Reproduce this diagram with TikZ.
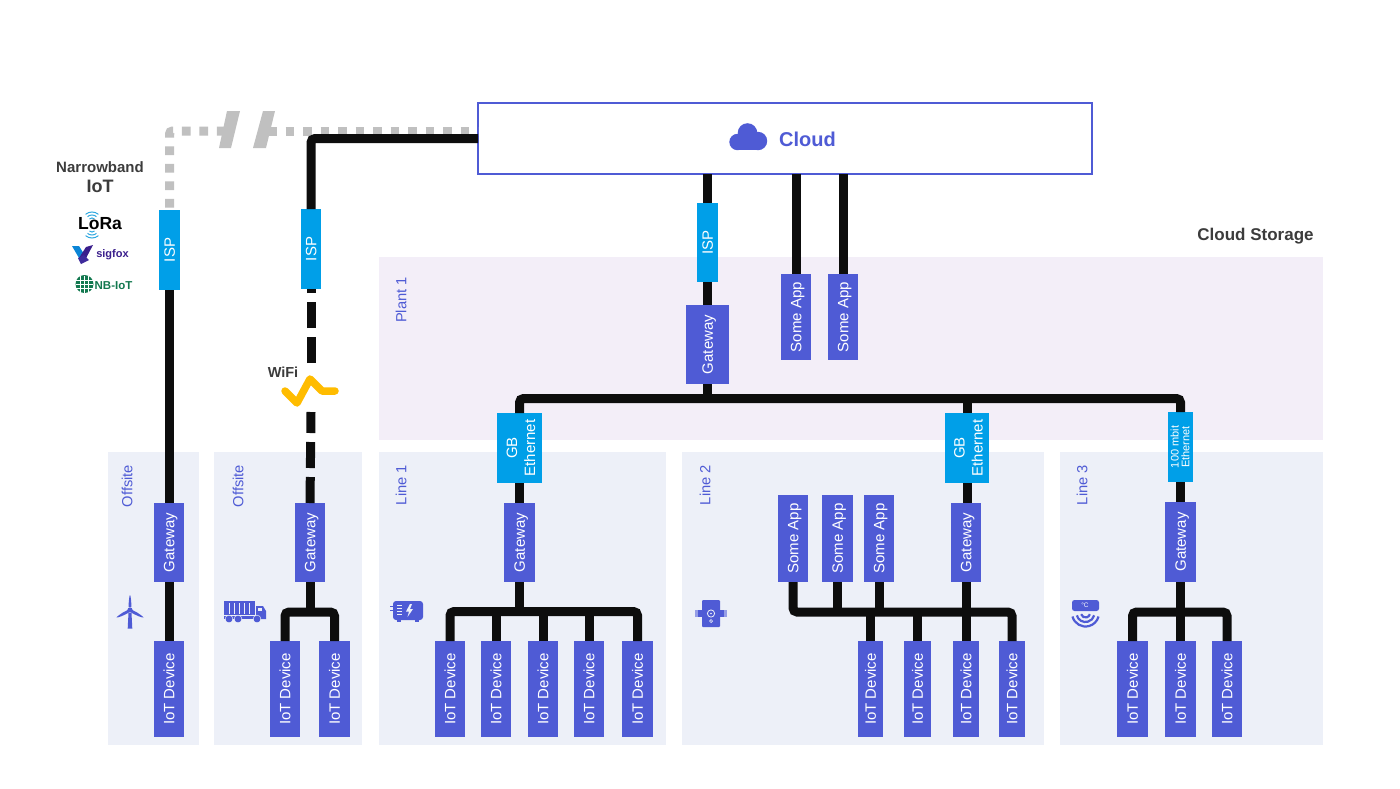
\documentclass[tikz,border=0pt]{standalone}
\usepackage{graphicx}
\usepackage{fontspec}
\setmainfont{Liberation Sans}
\definecolor{blu}{HTML}{4F5BD5}
\definecolor{cyn}{HTML}{009FE8}
\definecolor{pan}{HTML}{EDF0F8}
\definecolor{plant}{HTML}{F3EEF8}
\definecolor{blk}{HTML}{0D0D0D}
\definecolor{gry}{HTML}{C0C0C0}
\definecolor{ink}{HTML}{3C3C3C}
\definecolor{amb}{HTML}{FFBC00}
\definecolor{lorab}{HTML}{2FA8E0}
\definecolor{sigv}{HTML}{3A1E8C}
\definecolor{nbg}{HTML}{12784F}
\newcommand\fs[1]{\fontsize{#1}{#1}\selectfont}
\newcommand\zb[2]{\raisebox{#1}[0pt][0pt]{\makebox[0pt]{#2}}}
\newcommand\one[1]{\rotatebox{90}{\zb{-5.3pt}{#1}}}
\newcommand\two[4]{\rotatebox{90}{\zb{#3}{#1}\zb{#4}{#2}}}
\newcommand\bx[7]{\node[#6,minimum width={(#4-#2)*1pt},minimum height={(#5-#3)*1pt}] (#1) at ({(#2+#4)/2},{(#3+#5)/2}) {#7};}
\tikzset{
 x=1pt,y=-1pt,
 bluebox/.style={fill=blu,text=white,inner sep=0pt,outer sep=0pt,font=\fs{15}},
 cyanbox/.style={fill=cyn,text=white,inner sep=0pt,outer sep=0pt,font=\fs{15}},
 panlabel/.style={text=blu,font=\fs{14.7},rotate=90,inner sep=0pt},
 wire/.style={draw=blk,line width=9pt,rounded corners=4pt},
 graywire/.style={draw=gry,line width=9pt,dash pattern=on 8.75pt off 8.75pt},
 note/.style={text=ink,font=\bfseries\fs{15},inner sep=0pt},
}
\begin{document}
\begin{tikzpicture}
\useasboundingbox (0,0) rectangle (1400,788);
\fill[white] (0,0) rectangle (1400,788);
% panels
\fill[plant] (379,257) rectangle (1323,440);
\fill[pan] (108,452) rectangle (199,745);
\fill[pan] (214,452) rectangle (362,745);
\fill[pan] (379,452) rectangle (666,745);
\fill[pan] (682,452) rectangle (1044,745);
\fill[pan] (1060,452) rectangle (1323,745);
\node[panlabel] (lbPlant) at (401,300) {Plant 1};
\node[panlabel] (lbOff1) at (127,486) {Offsite};
\node[panlabel] (lbOff2) at (238,486) {Offsite};
\node[panlabel] (lbL1) at (401,485) {Line 1};
\node[panlabel] (lbL2) at (705,485) {Line 2};
\node[panlabel] (lbL3) at (1082,485) {Line 3};
\node[text=ink,font=\bfseries\fs{17},inner sep=0pt] (store) at (1255.5,236) {Cloud Storage};
\node[note] (nb) at (100,167) {Narrowband};
\node[note,font=\bfseries\fs{18}] (nbi) at (100,186) {IoT};
\node[note,font=\bfseries\fs{14.5}] (wifi) at (283,372) {WiFi};
% cloud
\node[draw=blu,line width=1.6pt,fill=white,minimum width=614pt,minimum height=71pt,inner sep=0pt,outer sep=0pt] (cloud) at (785,138.5) {};
\node[text=blu,font=\bfseries\fs{20},inner sep=0pt] (cloudt) at (807.5,139) {Cloud};
\fill[blu] (737.5,142) circle[radius=8.2];
\fill[blu] (747.5,133) circle[radius=9.8];
\fill[blu] (758,141) circle[radius=9.2];
\fill[blu] (737.5,140) rectangle (758,150.2);
% boxes
\bx{ispA}{159}{210}{180}{290}{cyanbox}{\one{ISP}}
\bx{ispB}{301}{209}{321}{289}{cyanbox}{\one{ISP}}
\bx{ispC}{697}{203}{718}{282}{cyanbox}{\one{ISP}}
\bx{gwP}{686}{305}{729}{384}{bluebox}{\one{Gateway}}
\bx{appA}{781}{274}{811}{360}{bluebox}{\one{Some App}}
\bx{appB}{828}{274}{858}{360}{bluebox}{\one{Some App}}
\bx{ethA}{497}{413}{542}{483}{cyanbox}{\two{GB}{Ethernet}{2.5pt}{-15.5pt}}
\bx{ethB}{945}{413}{989}{483}{cyanbox}{\two{GB}{Ethernet}{2.5pt}{-15.5pt}}
\bx{ethC}{1168}{412}{1193}{482}{cyanbox}{\fs{11}\two{100 mbit}{Ethernet}{1.8pt}{-8.8pt}}
\bx{gwA}{154}{503}{184}{582}{bluebox}{\one{Gateway}}
\bx{gwB}{295}{503}{325}{582}{bluebox}{\one{Gateway}}
\bx{gwC}{504}{503}{535}{582}{bluebox}{\one{Gateway}}
\bx{gwD}{951}{503}{981}{582}{bluebox}{\one{Gateway}}
\bx{gwE}{1165}{502}{1196}{582}{bluebox}{\one{Gateway}}
\bx{appC}{778}{495}{808}{582}{bluebox}{\one{Some App}}
\bx{appD}{822}{495}{853}{582}{bluebox}{\one{Some App}}
\bx{appE}{864}{495}{894}{582}{bluebox}{\one{Some App}}
\bx{dA}{154}{641}{184}{737}{bluebox}{\one{IoT Device}}
\bx{dB}{270}{641}{300}{737}{bluebox}{\one{IoT Device}}
\bx{dC}{319}{641}{350}{737}{bluebox}{\one{IoT Device}}
\bx{dD}{435}{641}{465}{737}{bluebox}{\one{IoT Device}}
\bx{dE}{481}{641}{511}{737}{bluebox}{\one{IoT Device}}
\bx{dF}{528}{641}{558}{737}{bluebox}{\one{IoT Device}}
\bx{dG}{574}{641}{604}{737}{bluebox}{\one{IoT Device}}
\bx{dH}{622}{641}{653}{737}{bluebox}{\one{IoT Device}}
\bx{dI}{858}{641}{883}{737}{bluebox}{\one{IoT Device}}
\bx{dJ}{904}{641}{931}{737}{bluebox}{\one{IoT Device}}
\bx{dK}{953}{641}{979}{737}{bluebox}{\one{IoT Device}}
\bx{dL}{999}{641}{1025}{737}{bluebox}{\one{IoT Device}}
\bx{dM}{1117}{641}{1148}{737}{bluebox}{\one{IoT Device}}
\bx{dN}{1165}{641}{1196}{737}{bluebox}{\one{IoT Device}}
\bx{dO}{1212}{641}{1242}{737}{bluebox}{\one{IoT Device}}
% helper coordinates
\coordinate (busP) at (707.5,398.5);
\coordinate (busB) at (310,612);
\coordinate (busC) at (519.5,611.5);
\coordinate (busD) at (966,612);
\coordinate (busE) at (1180.5,612);
\coordinate (gapL) at (224.5,131);
\coordinate (gapR) at (268,131);
\coordinate (wifiT) at (311,363);
\coordinate (wifiB) at (311,412);
% gray link
\draw[graywire,dash phase=15pt,rounded corners=3pt] (ispA.north) |- (gapL);
\draw[graywire] (gapR) -- (gapR -| cloud.west);
\fill[gry] (227,111) -- (240,111) -- (231,148) -- (219,148) -- cycle;
\fill[gry] (263,111) -- (275,111) -- (266,148) -- (253,148) -- cycle;
% black links
\draw[wire] (ispB.north) |- (cloud.west);
\draw[wire] (ispA.south) -- (ispA.south |- gwA.north);
\draw[wire] (gwA.south) -- (dA.north);
\draw[wire,dash pattern=on 26pt off 9pt] (wifiT) -- (ispB.south);
\draw[wire,dash pattern=on 26pt off 9pt] (gwB.north) -- (wifiB);
\draw[wire] (cloud.south -| ispC.north) -- (ispC.north);
\draw[wire] (ispC.south) -- (ispC.south |- gwP.north);
\draw[wire] (cloud.south -| appA.north) -- (appA.north);
\draw[wire] (cloud.south -| appB.north) -- (appB.north);
\draw[wire] (gwP.south) -- (busP);
\draw[wire] (ethA.north) |- (busP) -| (ethC.north);
\draw[wire] (ethB.north) -- (ethB.north |- busP);
\draw[wire] (ethA.south) -- (ethA.south |- gwC.north);
\draw[wire] (ethB.south) -- (ethB.south |- gwD.north);
\draw[wire] (ethC.south) -- (ethC.south |- gwE.north);
% trees
\draw[wire] (gwB.south) -- (busB);
\draw[wire] (dB.north) |- (busB) -| (dC.north);
\draw[wire] (gwC.south) -- (busC);
\draw[wire] (dD.north) |- (busC) -| (dH.north);
\foreach \n in {dE,dF,dG} \draw[wire] (\n.north) -- (\n.north |- busC);
\draw[wire] (gwD.south) -- (busD);
\draw[wire] (appC.south) |- (busD) -| (dL.north);
\foreach \n in {appD,appE} \draw[wire] (\n.south) -- (\n.south |- busD);
\foreach \n in {dI,dJ,dK} \draw[wire] (\n.north) -- (\n.north |- busD);
\draw[wire] (gwE.south) -- (busE);
\draw[wire] (dM.north) |- (busE) -| (dO.north);
\draw[wire] (dN.north) -- (dN.north |- busE);
% wifi
\draw[amb,line width=7.5pt,line cap=round,line join=round] (285,391) -- (297,403) -- (310,379) -- (322,391) -- (335,391);
% turbine
\begin{scope}[shift={(130,610)}]
 \fill[blu] (-1.5,3) -- (1.5,3) -- (2.3,18.5) -- (-2.3,18.5) -- cycle;
 \fill[blu] (-1.3,-3) .. controls (-1.5,-9) and (-0.5,-15) .. (0,-15) .. controls (0.5,-15) and (1.5,-9) .. (1.3,-3) -- cycle;
 \fill[blu] (-2.3,0) .. controls (-8,2.5) and (-13,6.5) .. (-13.5,7.5) .. controls (-12.5,7.8) and (-6,5.5) .. (-1.2,2.6) -- cycle;
 \fill[blu] (2.3,0) .. controls (8,2.5) and (13,6.5) .. (13.5,7.5) .. controls (12.5,7.8) and (6,5.5) .. (1.2,2.6) -- cycle;
 \fill[blu] (0,0) circle[radius=2.6];
\end{scope}
% truck
\begin{scope}[shift={(224,601)}]
 \fill[blu] (0,0) rectangle (31,14);
 \foreach \t in {5,10,15,20,25} \fill[pan] (\t,2) rectangle (\t+.7,13);
 \fill[blu] (32,5) -- (39,5) -- (42,10) -- (42,18) -- (32,18) -- cycle;
 \fill[pan] (34,6.5) rectangle (38,9.5);
 \fill[blu] (0,15) rectangle (42,18);
 \foreach \t in {5,14,33} {\fill[blu] (\t,18) circle[radius=3.7]; \draw[pan,line width=.5pt] (\t,18) circle[radius=3.9];}
\end{scope}
% generator
\begin{scope}[shift={(390,601)}]
 \fill[blu,rounded corners=3pt] (3,0) rectangle (33,19);
 \fill[blu] (7,18) rectangle (11,21);
 \fill[blu] (25,18) rectangle (29,21);
 \foreach \t in {4,7,10,13} {\fill[pan] (7,\t) rectangle (12,\t+1);}
 \foreach \t in {5,9} {\fill[blu] (0,\t) rectangle (3,\t+1);}
 \fill[pan] (20,3) -- (16,10.5) -- (19,10.5) -- (17.5,16) -- (23,8) -- (20,8) -- (22,3) -- cycle;
\end{scope}
% valve
\begin{scope}[shift={(711,613.5)}]
 \fill[blu!60] (-16,-3.5) rectangle (16,3.5);
 \fill[blu] (-13,-3.5) rectangle (13,3.5);
 \fill[blu,rounded corners=1pt] (-9,-13.5) rectangle (9,13.5);
 \draw[pan,line width=.8pt] (0,0) circle[radius=3.6];
 \fill[pan] (0,0) circle[radius=.8];
 \draw[pan,line width=.7pt] (0,7.5) circle[radius=1.5];
\end{scope}
% sensor
\fill[blu,rounded corners=2.5pt] (1072,600) rectangle (1099,611);
\node[text=white,font=\fs{6.5},inner sep=0pt] (degc) at (1085,605.5) {°C};
\foreach \r in {4.5,9,13.5} \draw[blu,line width=2.2pt] (1085.5,613) ++(165:\r) arc[start angle=165,end angle=15,radius=\r];
% LoRa logo
\foreach \r in {4,7,10} \draw[lorab,line width=1pt] (92,222) ++(-130:\r) arc[start angle=-130,end angle=-50,radius=\r];
\foreach \r in {4,7,10} \draw[lorab,line width=1pt] (92,228) ++(130:\r) arc[start angle=130,end angle=50,radius=\r];
\node[text=black,font=\bfseries\fs{17.5},inner sep=0pt] (lora) at (100,223.5) {LoRa};
% sigfox logo
\fill[cyn!80!sigv] (72,246) -- (79,246) -- (84,254) -- (79,258) -- cycle;
\fill[sigv] (93,245) -- (86,247) -- (79,258) -- (84,262) -- cycle;
\fill[sigv!80!blu] (78,258) -- (84,255) -- (89,260) -- (81,264) -- cycle;
\node[text=sigv,font=\bfseries\fs{11},inner sep=0pt] (sig) at (112.5,255) {sigfox};
% NB-IoT logo
\fill[nbg] (84.5,284) circle[radius=9];
\foreach \t in {-4,0,4} \draw[white,line width=.5pt] (76,284+\t) -- (93,284+\t);
\foreach \t in {-4,0,4} \draw[white,line width=.5pt] (84.5+\t,275.5) -- (84.5+\t,292.5);
\node[text=nbg,font=\bfseries\fs{11.5},inner sep=0pt] (nbt) at (113.5,286) {NB-IoT};
\end{tikzpicture}
\end{document}
